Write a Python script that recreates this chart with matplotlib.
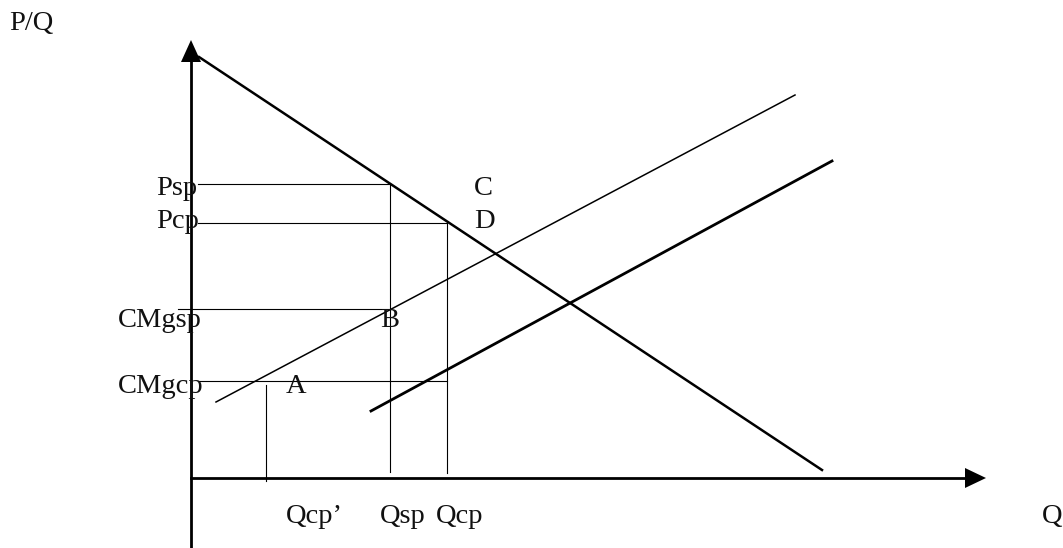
import matplotlib.pyplot as plt

# everything in pixel units of the 1063x548 picture (y grows downward)
# axes
yaxis_x, yaxis_top, yaxis_bot = 191, 58, 548
xaxis_y, xaxis_left, xaxis_right = 478, 191, 968
# curves: (x0, y0, x1, y1)
demand = (199, 57, 822, 470)
supply_sp = (216, 402, 795, 95)
supply_cp = (371, 411, 832, 161)
# guide lines
hlines = [(184, 198, 390), (223, 198, 447), (309, 178, 391), (381, 198, 447)]
vlines = [(390, 184, 472), (447, 223, 473), (266, 385, 481)]
# labels: text, x, baseline y
labels = [('P/Q', 9, 30), ('Psp', 156, 195), ('Pcp', 156, 228),
          ('CMgsp', 118, 327), ('CMgcp', 118, 393), ('A', 286, 393),
          ('B', 380, 327), ('C', 474, 195), ('D', 474, 228),
          ("Qcp\u2019", 286, 523), ('Qsp', 380, 523), ('Qcp', 436, 523),
          ('Q', 1042, 523)]

fig = plt.figure(figsize=(10.63, 5.48), dpi=100)
ax = fig.add_axes([0, 0, 1, 1])
ax.set_xlim(0, 1063)
ax.set_ylim(548, 0)
ax.axis('off')

ax.plot([yaxis_x, yaxis_x], [yaxis_bot, yaxis_top], color='k', lw=2.0)
ax.plot([xaxis_left, xaxis_right], [xaxis_y, xaxis_y], color='k', lw=2.0)
ax.fill([191, 181, 201], [40, 62, 62], color='k', lw=0)
ax.fill([986, 965, 965], [478, 468, 488], color='k', lw=0)

ax.plot(demand[::2], demand[1::2], color='k', lw=1.8)
ax.plot(supply_sp[::2], supply_sp[1::2], color='k', lw=1.1)
ax.plot(supply_cp[::2], supply_cp[1::2], color='k', lw=2.0)

for y, x0, x1 in hlines:
    ax.plot([x0, x1], [y, y], color='k', lw=0.8)
for x, y0, y1 in vlines:
    ax.plot([x, x], [y0, y1], color='k', lw=0.8)

for t, x, y in labels:
    ax.text(x, y, t, fontsize=20.5, family='Liberation Serif',
            ha='left', va='baseline', color='#111111')

fig.savefig('out.png', dpi=100)
